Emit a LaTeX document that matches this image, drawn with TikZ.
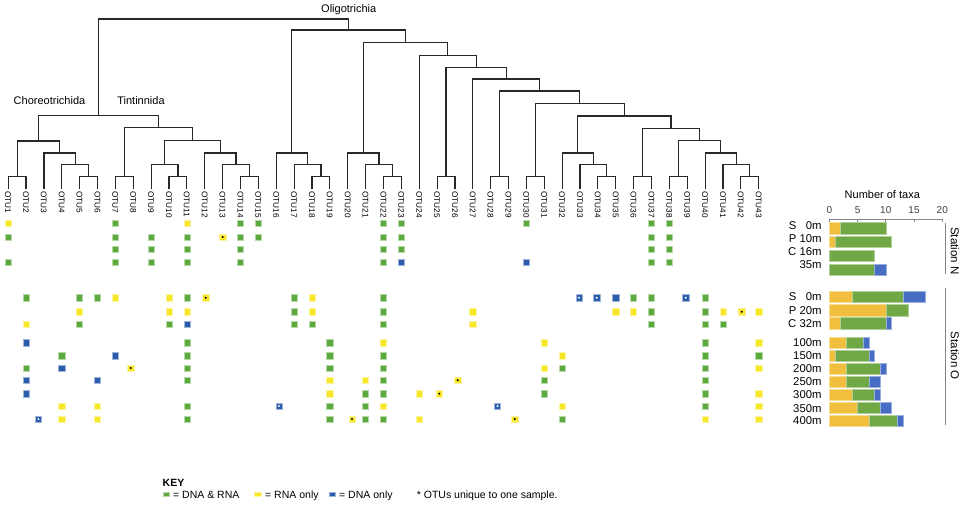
\documentclass[tikz,border=0pt]{standalone}
\usepackage{fontspec}
\setmainfont{Liberation Sans}
\usetikzlibrary{calc}
\definecolor{cG}{RGB}{92,170,62}
\definecolor{cY}{RGB}{248,230,40}
\definecolor{cB}{RGB}{42,92,172}
\definecolor{bY}{RGB}{242,190,62}
\definecolor{bG}{RGB}{112,168,70}
\definecolor{bB}{RGB}{72,110,196}
\definecolor{treec}{RGB}{40,40,40}
\definecolor{axc}{RGB}{135,135,135}
\tikzset{
 treeline/.style={draw=treec, line width=1.15pt},
 otu/.style={font=\fontsize{8.2}{9}\selectfont, rotate=-90, anchor=west, inner sep=0pt, text height=5.9pt, text depth=0pt},
 clade/.style={font=\fontsize{11}{13}\selectfont, inner sep=0pt, text height=7.9pt, text depth=0pt},
 blab/.style={font=\fontsize{11.3}{13}\selectfont, anchor=east, inner sep=0pt, text height=8.1pt, text depth=0pt},
 ticklab/.style={font=\fontsize{10}{12}\selectfont, text=black!75, inner sep=0pt, text height=7.2pt, text depth=0pt},
 keytxt/.style={font=\fontsize{10.5}{12}\selectfont, anchor=west, inner sep=0pt, text height=7.5pt, text depth=0pt},
 stlab/.style={font=\fontsize{11.5}{13}\selectfont, rotate=-90, inner sep=0pt, text height=8.2pt, text depth=0pt},
 stline/.style={draw=axc, line width=1.3pt},
}
\newcommand\jn[4]{%
 \path ($(#2)!0.5!(#3)$) coordinate (jtmp);
 \coordinate (#1) at (jtmp |- 0,#4);
 \draw[treeline] (#2) |- (#1) -| (#3);}
\newcommand\sq[3]{\filldraw[fill=#3,draw=#3!45!white,line width=0.6pt] ({#1-3.1},{#2-3.1}) rectangle ({#1+3.1},{#2+3.1});}
\newcommand\sqd[4]{\sq{#1}{#2}{#3}\fill[#4] (#1,#2) circle (1.1pt);}
\newcommand\mrow[2]{\foreach \c/\k in {#2}{\pgfmathsetmacro\xx{8.2+(\c-1)*17.87}\sq{\xx}{#1}{\k}}}
\newcommand\seg[4]{\filldraw[fill=#4,draw=#4!55!white,line width=0.5pt] ({829.3+#2*5.65},{#1-5.7}) rectangle ({829.3+#3*5.65},{#1+5.7});}
\begin{document}
\begin{tikzpicture}[x=1pt,y=-1pt]
\useasboundingbox[fill=white] (0,0) rectangle (964,505);
% leaves and labels
\foreach \i in {1,...,43}{
 \pgfmathsetmacro\xx{8.2+(\i-1)*17.87}
 \coordinate (l\i) at (\xx,189.5);
 \node[otu] (t\i) at (\xx,191) {OTU\i};
}
% tree
\jn{a12}{l1}{l2}{176.7}
\jn{d56}{l5}{l6}{176.7}
\jn{d456}{l4}{d56}{164.7}
\jn{d3456}{l3}{d456}{153}
\jn{chor}{a12}{d3456}{141}
\jn{t78}{l7}{l8}{176.7}
\jn{t1011}{l10}{l11}{176.7}
\jn{t91011}{l9}{t1011}{164.7}
\jn{t1415}{l14}{l15}{176.7}
\jn{t131415}{l13}{t1415}{164.7}
\jn{t12x}{l12}{t131415}{153}
\jn{tA}{t91011}{t12x}{140.7}
\jn{tint}{t78}{tA}{127.9}
\jn{ct}{chor}{tint}{115.8}
\jn{o1819}{l18}{l19}{176.7}
\jn{o17x}{l17}{o1819}{164.7}
\jn{o16x}{l16}{o17x}{153}
\jn{o2223}{l22}{l23}{176.7}
\jn{o21x}{l21}{o2223}{164.7}
\jn{o20x}{l20}{o21x}{153}
\jn{o2526}{l25}{l26}{176.7}
\jn{o2829}{l28}{l29}{176.7}
\jn{o3031}{l30}{l31}{176.7}
\jn{o3435}{l34}{l35}{176.7}
\jn{o33x}{l33}{o3435}{164.7}
\jn{o32x}{l32}{o33x}{153}
\jn{o3637}{l36}{l37}{176.7}
\jn{o3839}{l38}{l39}{176.7}
\jn{o4243}{l42}{l43}{176.7}
\jn{o41x}{l41}{o4243}{164.7}
\jn{o40x}{l40}{o41x}{153}
\jn{n1}{o3839}{o40x}{140.7}
\jn{n2}{o3637}{n1}{128.3}
\jn{n3}{o32x}{n2}{116}
\jn{n4}{o3031}{n3}{103.7}
\jn{n5}{o2829}{n4}{91}
\jn{n6}{l27}{n5}{79}
\jn{n7}{o2526}{n6}{67.7}
\jn{n8}{l24}{n7}{55.7}
\jn{n9}{o20x}{n8}{42.7}
\jn{olig}{o16x}{n9}{30}
\jn{root}{ct}{olig}{19}
% clade labels
\node[clade] (oliglab) at (olig |- 0,9) {Oligotrichia};
\node[clade] (chorlab) at (49.5,101) {Choreotrichida};
\node[clade] (tintlab) at (141,101) {Tintinnida};
% matrix: Station N
\mrow{223.7}{1/cY,7/cG,11/cY,14/cG,15/cG,22/cG,23/cG,30/cG,37/cG,38/cG}
\mrow{237}{1/cG,7/cG,9/cG,11/cG,14/cG,15/cG,22/cG,23/cG,37/cG,38/cG}
\sqd{222.7}{237}{cY}{black}
\mrow{249.3}{7/cG,9/cG,11/cG,14/cG,22/cG,23/cG,37/cG,38/cG}
\mrow{262}{1/cG,7/cG,9/cG,11/cG,14/cG,22/cG,23/cB,30/cB,37/cG,38/cG}
% matrix: Station O
\mrow{297.7}{2/cG,5/cG,6/cG,7/cY,10/cY,11/cG,17/cG,18/cY,22/cG,35/cB,36/cG,37/cG,40/cG}
\sqd{205.7}{297.7}{cY}{black}
\sqd{579}{297.7}{cB}{white}
\sqd{596.7}{297.7}{cB}{white}
\sqd{685.7}{297.7}{cB}{white}
\mrow{311.7}{5/cY,10/cY,11/cY,17/cG,18/cY,22/cG,27/cY,35/cY,36/cY,37/cG,40/cG,41/cY,43/cY}
\sqd{741.7}{311.7}{cY}{black}
\mrow{324}{2/cY,5/cG,10/cG,11/cB,17/cG,18/cG,22/cG,27/cY,37/cG,40/cG,41/cG}
\mrow{342.7}{2/cB,11/cG,19/cG,22/cY,31/cY,40/cG,43/cY}
\mrow{355.7}{4/cG,7/cB,11/cG,19/cG,22/cG,32/cY,40/cG,43/cG}
\mrow{368}{2/cG,4/cB,11/cG,19/cG,22/cG,31/cY,32/cG,40/cG,43/cY}
\sqd{130.7}{368}{cY}{black}
\mrow{380.3}{2/cB,6/cB,11/cG,19/cY,21/cY,22/cG,31/cG,40/cG}
\sqd{457.7}{380.3}{cY}{black}
\mrow{393.7}{2/cB,19/cY,21/cG,22/cG,24/cY,31/cG,40/cG,43/cY}
\sqd{439.3}{393.7}{cY}{black}
\mrow{406}{4/cY,6/cY,11/cG,19/cG,21/cG,22/cY,32/cY,40/cG,43/cY}
\sqd{279}{406}{cB}{white}
\sqd{497.5}{406}{cB}{white}
\mrow{419}{4/cY,6/cY,11/cG,19/cG,21/cG,22/cG,24/cY,32/cG,40/cY,43/cY}
\sqd{38.4}{419}{cB}{white}
\sqd{352}{419}{cY}{black}
\sqd{514.8}{419}{cY}{black}
% bar chart axis
\node[clade] (ntaxa) at (882.3,195) {Number of taxa};
\coordinate (ax0) at (829.3,219.5);
\coordinate (ax1) at (942.3,219.5);
\draw[axc, line width=0.8pt] (ax0) -- (ax1);
\foreach \v in {0,5,10,15,20}{
 \draw[axc, line width=0.8pt] ({829.3+\v*5.65},219.5) -- ({829.3+\v*5.65},222);
 \node[ticklab] (tk\v) at ({829.3+\v*5.65},210) {\v};
}
% bars Station N
\seg{228.3}{0}{2}{bY}\seg{228.3}{2}{10}{bG}
\seg{241.9}{0}{1}{bY}\seg{241.9}{1}{11}{bG}
\seg{255.8}{0}{8}{bG}
\seg{269.8}{0}{8}{bG}\seg{269.8}{8}{10}{bB}
% bars Station O
\seg{296.85}{0}{4}{bY}\seg{296.85}{4}{13}{bG}\seg{296.85}{13}{17}{bB}
\seg{310.15}{0}{10}{bY}\seg{310.15}{10}{14}{bG}
\seg{323.35}{0}{2}{bY}\seg{323.35}{2}{10}{bG}\seg{323.35}{10}{11}{bB}
\seg{342.8}{0}{3}{bY}\seg{342.8}{3}{6}{bG}\seg{342.8}{6}{7}{bB}
\seg{355.85}{0}{1}{bY}\seg{355.85}{1}{7}{bG}\seg{355.85}{7}{8}{bB}
\seg{368.8}{0}{3}{bY}\seg{368.8}{3}{9}{bG}\seg{368.8}{9}{10}{bB}
\seg{381.65}{0}{3}{bY}\seg{381.65}{3}{7}{bG}\seg{381.65}{7}{9}{bB}
\seg{395}{0}{4}{bY}\seg{395}{4}{8}{bG}\seg{395}{8}{9}{bB}
\seg{407.8}{0}{5}{bY}\seg{407.8}{5}{9}{bG}\seg{407.8}{9}{11}{bB}
\seg{420.85}{0}{7}{bY}\seg{420.85}{7}{12}{bG}\seg{420.85}{12}{13}{bB}
% bar labels
\node[blab] (rn1) at (821.7,225) {S\ \phantom{1}0m};
\node[blab] (rn2) at (821.7,238.3) {P 10m};
\node[blab] (rn3) at (821.7,251) {C 16m};
\node[blab] (rn4) at (821.7,264.3) {35m};
\node[blab] (ro1) at (821.7,296.85) {S\ \phantom{1}0m};
\node[blab] (ro2) at (821.7,310.15) {P 20m};
\node[blab] (ro3) at (821.7,323.8) {C 32m};
\node[blab] (ro4) at (821.7,342.6) {100m};
\node[blab] (ro5) at (821.7,355.2) {150m};
\node[blab] (ro6) at (821.7,368.3) {200m};
\node[blab] (ro7) at (821.7,381.3) {250m};
\node[blab] (ro8) at (821.7,394.6) {300m};
\node[blab] (ro9) at (821.7,408) {350m};
\node[blab] (ro10) at (821.7,420.8) {400m};
% station brackets
\coordinate (sn0) at (945.7,223.3);
\coordinate (sn1) at (945.7,274.3);
\coordinate (so0) at (945.7,287.7);
\coordinate (so1) at (945.7,425);
\draw[stline] (sn0) -- (sn1);
\draw[stline] (so0) -- (so1);
\node[stlab] (stN) at (955,250.8) {Station N};
\node[stlab] (stO) at (955,355.9) {Station O};
% key
\node[keytxt, font=\fontsize{10.5}{12}\selectfont\bfseries] (keyt) at (162.5,483) {KEY};
\filldraw[fill=cG,draw=cG!45!white,line width=0.5pt] (163.3,492.3) rectangle (169.5,496.5);
\node[keytxt] (k1) at (173,494.5) {= DNA \& RNA};
\filldraw[fill=cY,draw=cY!45!white,line width=0.5pt] (254.3,492.3) rectangle (261.5,496.5);
\node[keytxt] (k2) at (265,494.5) {= RNA only};
\filldraw[fill=cB,draw=cB!45!white,line width=0.5pt] (329.3,492.3) rectangle (335.7,496.5);
\node[keytxt] (k3) at (339,494.5) {= DNA only};
\node[keytxt] (k4) at (416.7,494.5) {* OTUs unique to one sample.};
\end{tikzpicture}
\end{document}
